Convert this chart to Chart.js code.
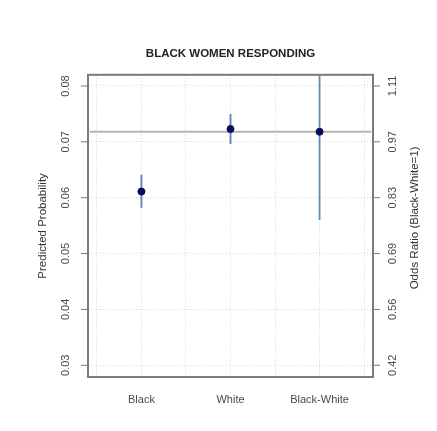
<!DOCTYPE html>
<html>
<head>
<meta charset="utf-8">
<script src="https://cdn.jsdelivr.net/npm/chart.js@4.4.1/dist/chart.umd.min.js"></script>
<style>
  html, body { margin: 0; padding: 0; background: #fff; }
  #wrap { width: 437px; height: 431px; }
</style>
</head>
<body>
<div id="wrap"><canvas id="chart" width="437" height="431"></canvas></div>
<script>
// categories on the x axis (positions 1, 2, 3)
const categories = ['Black', 'White', 'Black-White'];

// predicted probabilities (left axis)
const probPoint = [0.0611, 0.0723];
const probLow = [0.0582, 0.0696];
const probHigh = [0.0641, 0.0750];

// odds ratio Black/White (right axis), upper limit runs past the top
const orPoint = [1.0];
const orLow = [0.78];
const orHigh = [1.25];

// tick values / labels
const leftTicks = [0.03, 0.04, 0.05, 0.06, 0.07, 0.08];
const rightTickLabels = ['0.42', '0.56', '0.69', '0.83', '0.97', '1.11'];
const xGrid = [0.5, 1, 1.5, 2, 2.5, 3, 3.5];

const yMin = 0.0279, yMax = 0.082;
const orFactor = 1 / 0.0718; // odds ratio per unit of probability

const font = 'Liberation Sans, Arial, sans-serif';

// error bars as two-point lines
const errorSets = [];
probPoint.forEach((p, i) => {
  errorSets.push({
    type: 'line',
    data: [{ x: i + 1, y: probLow[i] }, { x: i + 1, y: probHigh[i] }],
    borderColor: '#6489b8',
    borderWidth: 2,
    pointRadius: 0,
    yAxisID: 'y',
    order: 1
  });
});
orPoint.forEach((p, i) => {
  errorSets.push({
    type: 'line',
    data: [{ x: 3 + i, y: orLow[i] }, { x: 3 + i, y: orHigh[i] }],
    borderColor: '#6489b8',
    borderWidth: 1.8,
    pointRadius: 0,
    yAxisID: 'y2',
    order: 1
  });
});

const datasets = [
  {
    type: 'scatter',
    data: probPoint.map((p, i) => ({ x: i + 1, y: p })),
    backgroundColor: '#0c0c58',
    borderColor: '#0c0c58',
    pointRadius: 3.5,
    yAxisID: 'y',
    order: 0
  },
  {
    type: 'scatter',
    data: orPoint.map((p, i) => ({ x: 3 + i, y: p })),
    backgroundColor: '#0c0c58',
    borderColor: '#0c0c58',
    pointRadius: 3.5,
    yAxisID: 'y2',
    order: 0
  },
  ...errorSets,
  {
    type: 'line',
    data: [{ x: 0.42, y: 1 }, { x: 3.58, y: 1 }],
    borderColor: '#b4b4b4',
    borderWidth: 2,
    pointRadius: 0,
    yAxisID: 'y2',
    order: 2
  }
];

// box, tick marks, rotated tick labels, axis titles
const frame = {
  id: 'frame',
  afterDraw(chart) {
    const { ctx, chartArea: a, scales } = chart;
    ctx.save();
    ctx.strokeStyle = '#7a7a7a';
    ctx.lineWidth = 2;
    ctx.strokeRect(a.left, a.top, a.right - a.left, a.bottom - a.top);

    ctx.lineWidth = 1;
    ctx.fillStyle = '#4a4a4a';
    ctx.font = '11px ' + font;
    ctx.textAlign = 'center';
    ctx.textBaseline = 'middle';

    leftTicks.forEach((v, i) => {
      const y = scales.y.getPixelForValue(v);
      ctx.beginPath();
      ctx.moveTo(a.left - 7, y);
      ctx.lineTo(a.left, y);
      ctx.moveTo(a.right, y);
      ctx.lineTo(a.right + 7, y);
      ctx.stroke();

      ctx.save();
      ctx.translate(a.left - 22, y);
      ctx.rotate(-Math.PI / 2);
      ctx.fillText(v.toFixed(2), 0, 0);
      ctx.restore();

      const y2 = scales.y2.getPixelForValue(v * orFactor);
      ctx.save();
      ctx.translate(a.right + 20, y2);
      ctx.rotate(-Math.PI / 2);
      ctx.fillText(rightTickLabels[i], 0, 0);
      ctx.restore();
    });

    // category labels
    categories.forEach((c, i) => {
      ctx.fillText(c, scales.x.getPixelForValue(i + 1), a.bottom + 23);
    });

    // axis titles
    const midY = (a.top + a.bottom) / 2;
    ctx.fillStyle = '#333';
    ctx.font = '11.5px ' + font;
    ctx.save();
    ctx.translate(43, midY);
    ctx.rotate(-Math.PI / 2);
    ctx.fillText('Predicted Probability', 0, 0);
    ctx.restore();
    ctx.save();
    ctx.translate(415, midY - 8);
    ctx.rotate(-Math.PI / 2);
    ctx.fillText('Odds Ratio (Black-White=1)', 0, 0);
    ctx.restore();
    ctx.restore();
  }
};

new Chart(document.querySelector('#chart'), {
  data: { datasets },
  options: {
    responsive: false,
    animation: false,
    layout: { padding: { left: 88, right: 64, top: 0, bottom: 54 } },
    plugins: {
      legend: { display: false },
      tooltip: { enabled: false },
      title: {
        display: true,
        text: 'BLACK WOMEN RESPONDING',
        color: '#222',
        font: { family: font, size: 11.5, weight: 'bold' },
        padding: { top: 47, bottom: 14 }
      }
    },
    scales: {
      x: {
        type: 'linear',
        min: 0.4,
        max: 3.6,
        afterBuildTicks: (scale) => { scale.ticks = xGrid.map(v => ({ value: v })); },
        ticks: { display: false },
        grid: { color: '#d6d6d6', drawTicks: false },
        border: { display: false, dash: [1, 2] }
      },
      y: {
        min: yMin,
        max: yMax,
        afterBuildTicks: (scale) => { scale.ticks = leftTicks.map(v => ({ value: v })); },
        ticks: { display: false },
        grid: { color: '#d6d6d6', drawTicks: false },
        border: { display: false, dash: [1, 2] }
      },
      y2: {
        display: false,
        position: 'right',
        min: yMin * orFactor,
        max: yMax * orFactor
      }
    }
  },
  plugins: [frame]
});
</script>
</body>
</html>
